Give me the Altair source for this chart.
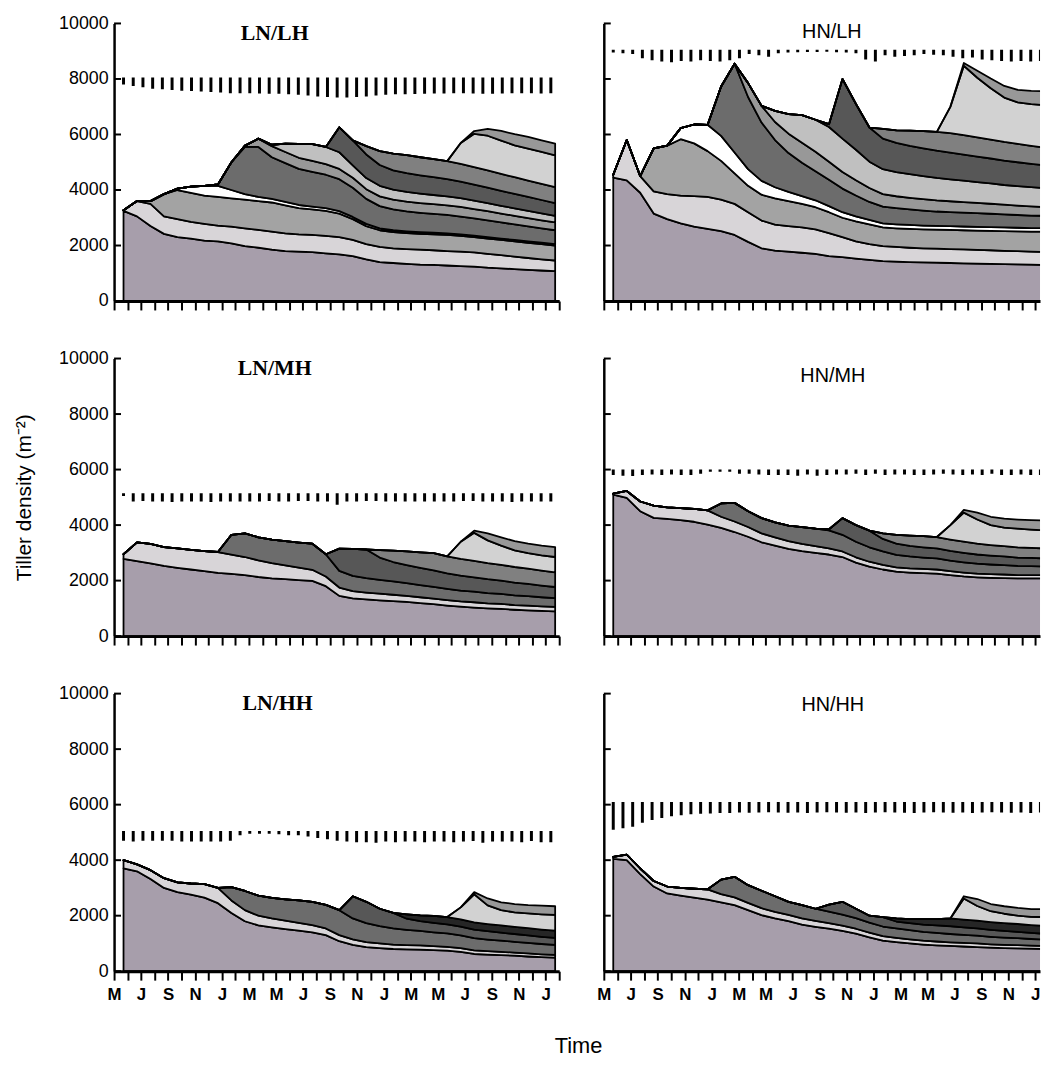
import altair as alt
import pandas as pd

# ---------------------------------------------------------------- data
# census dates (months after the first May)
T = [0.7, 1.7, 2.7, 3.7, 4.7, 5.7, 6.7, 7.7, 8.7, 9.7, 10.7, 11.7, 12.7, 13.7, 14.7, 15.7,
     16.7, 17.7, 18.7, 19.7, 20.7, 21.7, 22.7, 23.7, 24.7, 25.7, 26.7, 27.7, 28.7, 29.7,
     30.7, 31.7, 32.7]

# dates of the error bars
BAR_T = [0.7, 1.42, 2.14, 2.86, 3.58, 4.3, 5.02, 5.74, 6.46, 7.18, 7.9, 8.62, 9.34, 10.06,
         10.78, 11.5, 12.22, 12.94, 13.66, 14.38, 15.1, 15.82, 16.54, 17.26, 17.98, 18.7,
         19.42, 20.14, 20.86, 21.58, 22.3, 23.02, 23.74, 24.46, 25.18, 25.9, 26.62, 27.34,
         28.06, 28.78, 29.5, 30.22, 30.94, 31.66, 32.38]

MONTH_LABELS = ["M", "J", "S", "N", "J", "M"]
Y_TICKS = [0, 2000, 4000, 6000, 8000, 10000]

# cohorts: (kind, index of first census, tiller density of the cohort, m-2)
LN_LH = [
    ("base", 0, [3250, 3050, 2700, 2420, 2300, 2250, 2180, 2150, 2080, 1980, 1920, 1850, 1800, 1780, 1760, 1720, 1680, 1620, 1500, 1400, 1370, 1340, 1310, 1300, 1280, 1260, 1240, 1200, 1180, 1150, 1120, 1100, 1080]),
    ("dots", 0, [20, 550, 800, 630, 650, 600, 600, 570, 600, 640, 640, 650, 640, 620, 620, 630, 620, 580, 550, 550, 530, 530, 540, 530, 520, 520, 510, 500, 470, 450, 430, 400, 380]),
    ("hatch", 2, [100, 800, 1050, 1050, 1020, 1030, 1020, 1030, 1040, 1050, 1010, 950, 920, 900, 850, 750, 650, 600, 580, 580, 570, 570, 580, 570, 550, 550, 550, 550, 550, 550, 540]),
    ("white", 4, [50, 220, 350, 400, 300, 200, 150, 130, 120, 110, 100, 100, 90, 80, 80, 70, 70, 60, 60, 60, 60, 55, 55, 55, 50, 50, 50, 50, 50]),
    ("xhatch", 7, [50, 1000, 1700, 1800, 1500, 1400, 1300, 1250, 1200, 1150, 1050, 900, 800, 750, 720, 700, 680, 660, 640, 620, 600, 580, 560, 540, 520, 500]),
    ("vstripe", 9, [50, 300, 400, 400, 400, 400, 380, 370, 360, 350, 350, 350, 350, 350, 350, 350, 350, 340, 330, 320, 310, 300, 290, 280]),
    ("lhatch", 11, [50, 300, 500, 600, 620, 600, 450, 400, 380, 360, 350, 340, 330, 320, 310, 300, 290, 280, 270, 260, 250, 240]),
    ("diamond", 16, [900, 900, 850, 750, 700, 680, 660, 640, 620, 600, 580, 560, 540, 520, 500, 480, 460]),
    ("ddots", 18, [300, 500, 600, 650, 650, 650, 650, 640, 630, 620, 610, 600, 590, 580, 570]),
    ("grid", 25, [750, 1200, 1250, 1200, 1150, 1150, 1150, 1150]),
    ("vstripe", 26, [100, 250, 350, 400, 420, 420, 420]),
]
HN_LH = [
    ("base", 0, [4450, 4350, 3900, 3150, 2950, 2800, 2680, 2600, 2520, 2380, 2130, 1900, 1820, 1780, 1740, 1700, 1620, 1580, 1530, 1480, 1440, 1420, 1400, 1390, 1380, 1370, 1360, 1350, 1340, 1330, 1320, 1310, 1300]),
    ("dots", 0, [100, 1450, 600, 800, 900, 1000, 1100, 1150, 1130, 1120, 1070, 1000, 930, 920, 910, 880, 830, 720, 620, 570, 540, 530, 520, 510, 510, 500, 500, 490, 490, 480, 480, 470, 470]),
    ("hatch", 3, [1550, 1750, 2030, 1900, 1650, 1400, 1100, 950, 930, 950, 900, 850, 800, 750, 700, 720, 710, 670, 670, 680, 680, 680, 690, 690, 700, 700, 710, 710, 720, 730]),
    ("white", 5, [400, 680, 950, 900, 750, 600, 500, 400, 330, 280, 250, 220, 200, 180, 160, 150, 145, 140, 140, 135, 135, 135, 135, 135, 130, 130, 130, 130]),
    ("xhatch", 8, [1780, 3200, 2600, 2100, 1700, 1400, 1200, 1050, 950, 850, 750, 650, 600, 580, 560, 540, 520, 510, 500, 490, 480, 470, 460, 450, 440]),
    ("vstripe", 10, [500, 600, 650, 700, 720, 700, 650, 600, 550, 500, 450, 430, 420, 410, 400, 390, 380, 370, 360, 350, 340, 330, 320]),
    ("lhatch", 12, [400, 700, 1000, 1150, 1250, 1200, 1100, 950, 900, 870, 850, 830, 810, 790, 770, 750, 730, 710, 700, 690, 680]),
    ("diamond", 16, [100, 2150, 1650, 1230, 1100, 1050, 1020, 1000, 980, 960, 940, 920, 900, 880, 860, 840, 820]),
    ("ddots", 20, [350, 450, 550, 620, 680, 700, 700, 690, 680, 670, 660, 650, 640]),
    ("grid", 25, [950, 2500, 2150, 1850, 1600, 1500, 1500, 1530]),
    ("vstripe", 26, [100, 250, 350, 420, 450, 480, 500]),
]
LN_MH = [
    ("base", 0, [2780, 2700, 2620, 2530, 2460, 2400, 2340, 2280, 2240, 2200, 2130, 2080, 2050, 2020, 1990, 1800, 1450, 1360, 1320, 1290, 1260, 1230, 1190, 1150, 1100, 1060, 1030, 1000, 980, 950, 930, 910, 890]),
    ("dots", 0, [170, 680, 700, 680, 700, 710, 720, 750, 700, 650, 600, 550, 500, 450, 400, 350, 300, 260, 250, 240, 230, 220, 210, 200, 200, 190, 190, 180, 180, 170, 170, 160, 160]),
    ("xhatch", 8, [710, 850, 830, 850, 870, 900, 940, 800, 600, 550, 520, 500, 480, 460, 440, 420, 400, 390, 380, 370, 360, 350, 340, 330, 320]),
    ("diamond", 16, [800, 970, 1030, 800, 700, 650, 620, 600, 560, 540, 520, 500, 480, 460, 440, 420, 400]),
    ("ddots", 19, [270, 410, 490, 560, 620, 610, 600, 590, 580, 570, 560, 550, 540, 530]),
    ("grid", 25, [620, 1010, 820, 690, 600, 560, 550, 550]),
    ("vstripe", 26, [80, 250, 300, 330, 340, 350, 360]),
]
HN_MH = [
    ("base", 0, [5100, 4980, 4500, 4260, 4220, 4180, 4120, 4020, 3900, 3750, 3580, 3380, 3260, 3140, 3060, 3000, 2940, 2850, 2650, 2500, 2400, 2320, 2290, 2270, 2250, 2200, 2150, 2120, 2100, 2090, 2080, 2080, 2080]),
    ("dots", 0, [30, 250, 350, 440, 420, 430, 460, 510, 400, 380, 350, 320, 300, 280, 260, 240, 220, 200, 190, 180, 170, 160, 150, 150, 150, 140, 140, 130, 130, 130, 120, 120, 120]),
    ("xhatch", 8, [480, 670, 570, 550, 540, 560, 610, 630, 650, 600, 560, 520, 480, 450, 430, 410, 400, 380, 370, 360, 350, 340, 330, 320, 310]),
    ("diamond", 16, [40, 600, 600, 600, 450, 400, 380, 370, 360, 350, 340, 330, 320, 310, 300, 300, 290]),
    ("ddots", 20, [200, 320, 370, 400, 410, 410, 400, 390, 380, 370, 370, 360, 360]),
    ("grid", 25, [520, 1050, 870, 720, 670, 670, 660, 655]),
    ("vstripe", 26, [100, 250, 300, 320, 330, 340, 350]),
]
LN_HH = [
    ("base", 0, [3700, 3600, 3320, 3000, 2850, 2760, 2650, 2450, 2100, 1800, 1650, 1580, 1520, 1460, 1400, 1300, 1080, 950, 870, 830, 800, 790, 780, 760, 740, 700, 620, 600, 580, 560, 530, 510, 490]),
    ("dots", 0, [300, 250, 320, 350, 350, 400, 490, 550, 450, 400, 350, 320, 300, 280, 260, 240, 220, 200, 180, 170, 160, 150, 150, 140, 140, 130, 130, 120, 120, 110, 110, 100, 100]),
    ("xhatch", 8, [480, 690, 720, 740, 770, 810, 840, 850, 900, 750, 680, 620, 580, 550, 520, 500, 480, 460, 440, 420, 400, 390, 380, 370, 360]),
    ("diamond", 17, [800, 770, 630, 560, 400, 350, 340, 330, 320, 310, 300, 290, 280, 270, 260, 250]),
    ("black", 21, [160, 210, 250, 260, 260, 260, 260, 260, 260, 260, 260, 260]),
    ("grid", 25, [430, 1010, 670, 550, 520, 530, 550, 570]),
    ("vstripe", 26, [80, 250, 280, 300, 300, 310, 310]),
]
HN_HH = [
    ("base", 0, [4050, 4000, 3500, 3050, 2800, 2720, 2650, 2580, 2480, 2380, 2200, 2020, 1900, 1800, 1680, 1600, 1530, 1450, 1350, 1220, 1100, 1050, 1000, 960, 930, 910, 890, 870, 850, 830, 820, 810, 800]),
    ("dots", 0, [70, 200, 200, 200, 250, 280, 320, 370, 300, 280, 260, 250, 240, 230, 220, 210, 200, 190, 180, 170, 160, 150, 150, 140, 140, 130, 130, 130, 120, 120, 120, 110, 110]),
    ("xhatch", 8, [520, 740, 640, 630, 560, 470, 480, 440, 420, 400, 380, 360, 350, 340, 330, 320, 310, 300, 290, 280, 270, 260, 250, 240, 230]),
    ("diamond", 16, [250, 460, 340, 250, 340, 250, 250, 260, 270, 280, 270, 260, 250, 240, 230, 220, 210]),
    ("black", 21, [110, 150, 200, 230, 280, 280, 280, 280, 280, 280, 280, 280]),
    ("grid", 26, [760, 530, 390, 340, 300, 300, 320]),
    ("vstripe", 26, [80, 250, 260, 270, 280, 280, 280]),
]

# error bars: top of the bars and their lengths
BAR_TOP = {"LN/LH": 8050, "HN/LH": 9050, "LN/MH": 5150, "HN/MH": 6000, "LN/HH": 5050, "HN/HH": 6100}
BAR_LEN_LNLH = [250, 300, 350, 400, 420, 450, 470, 480, 500, 520, 540, 560, 560, 560, 570, 580, 580, 600, 620, 650, 680, 700, 720, 720, 700, 680, 650, 620, 600, 600, 590, 580, 570, 570, 560, 560, 570, 580, 580, 570, 560, 560, 560, 570, 560]
BAR_LEN_HNLH = [100, 120, 150, 300, 380, 420, 450, 400, 420, 380, 400, 420, 380, 300, 150, 200, 250, 120, 100, 90, 80, 80, 70, 90, 100, 120, 350, 420, 200, 250, 220, 200, 150, 180, 200, 250, 300, 280, 350, 380, 400, 420, 400, 420, 400]
BAR_LEN_LNMH = [100, 300, 280, 300, 300, 320, 300, 300, 300, 320, 300, 300, 300, 300, 300, 280, 300, 300, 280, 280, 300, 300, 420, 300, 300, 280, 280, 300, 300, 300, 300, 300, 300, 300, 300, 280, 280, 300, 300, 300, 320, 300, 300, 300, 300]
BAR_LEN_HNMH = [200, 220, 230, 200, 180, 200, 180, 200, 200, 150, 80, 80, 80, 150, 150, 180, 200, 200, 200, 220, 180, 220, 200, 180, 180, 150, 200, 150, 200, 180, 180, 200, 200, 180, 150, 180, 200, 180, 200, 150, 200, 200, 180, 200, 200]
BAR_LEN_LNHH = [350, 380, 350, 350, 350, 350, 380, 380, 380, 380, 380, 350, 150, 100, 100, 100, 120, 150, 150, 200, 250, 300, 350, 380, 400, 400, 420, 380, 400, 380, 380, 400, 380, 380, 400, 380, 360, 420, 380, 380, 380, 400, 360, 400, 400]
BAR_LEN_HNHH = [1000, 950, 900, 750, 650, 580, 520, 480, 450, 430, 420, 400, 400, 380, 390, 380, 370, 380, 390, 380, 400, 380, 370, 380, 390, 380, 400, 380, 370, 380, 390, 400, 380, 370, 380, 390, 380, 400, 380, 370, 380, 390, 380, 400, 380]

# ---------------------------------------------------------------- style
KIND_FILL = {
    "base": "#a79eab", "dots": "#d8d5d8", "hatch": "#a3a3a3", "white": "#ffffff",
    "xhatch": "#6c6c6c", "vstripe": "#989898", "lhatch": "#c0c0c0", "diamond": "#575757",
    "ddots": "#808080", "grid": "#d2d2d2", "black": "#262626",
}
LABEL_EXPR = ("datum.value % 2 == 0 ? [" + ",".join("'%s'" % m for m in MONTH_LABELS)
              + "][(datum.value / 2) % 6] : ''")


def cohort_frame(cohorts):
    rows = []
    for ci, (kind, start, vals) in enumerate(cohorts):
        if start + len(vals) != len(T):
            raise ValueError("cohort %d (%s) has wrong length %d" % (ci, kind, len(vals)))
        full = [0] * start + list(vals)
        for t, v in zip(T, full):
            rows.append({"t": t, "v": v, "cid": ci, "fill": KIND_FILL[kind]})
    return pd.DataFrame(rows)


def panel(name, cohorts, bar_len, col, row, tx, ty):
    left = col == 0
    bottom = row == 2
    xmax = 33.0 if left else 32.35
    width = 449 if left else 440
    if len(bar_len) != len(BAR_T):
        raise ValueError("bars of %s" % name)
    xs = alt.Scale(domain=[0, xmax], nice=False, zero=False)
    ys = alt.Scale(domain=[0, 10000], nice=False)
    xaxis = alt.Axis(values=list(range(0, int(xmax) + 1)), labelExpr=LABEL_EXPR,
                     labels=bottom, ticks=True, tickSize=9, tickWidth=2, tickColor="black",
                     domainWidth=3, domainColor="black", grid=False, title=None,
                     labelFont="Liberation Sans Narrow, Liberation Sans", labelFontSize=17,
                     labelFontWeight="bold", labelPadding=7, labelFlush=False,
                     labelOverlap=False, labelColor="black", zindex=1, minExtent=0)
    yargs = dict(values=Y_TICKS, labels=left, ticks=False, domainWidth=2.5, format="d",
                 domainColor="black", grid=False, labelFont="Liberation Sans",
                 labelFontSize=18, labelPadding=6, labelColor="black", zindex=1,
                 minExtent=0)
    if left and row == 1:
        yargs.update(title="Tiller density (m⁻²)", titleFont="Liberation Sans",
                     titleFontSize=21, titleFontWeight="normal", titlePadding=24,
                     titleColor="black")
    else:
        yargs.update(title=None)
    yaxis = alt.Axis(**yargs)

    area = alt.Chart(cohort_frame(cohorts)).mark_area(
        stroke="black", strokeWidth=1.8, strokeJoin="round", interpolate="linear", clip=True
    ).encode(
        x=alt.X("t:Q", scale=xs, axis=xaxis),
        y=alt.Y("v:Q", stack="zero", scale=ys, axis=yaxis),
        fill=alt.Fill("fill:N", scale=None),
        detail="cid:N",
        order=alt.Order("cid:Q", sort="ascending"),
    )
    top = BAR_TOP[name]
    bdf = pd.DataFrame({"t": BAR_T, "hi": [top] * len(BAR_T), "lo": [top - b for b in bar_len]})
    bars = alt.Chart(bdf).mark_rule(color="black", strokeWidth=3, clip=True).encode(
        x=alt.X("t:Q", scale=xs, axis=xaxis),
        y=alt.Y("hi:Q", scale=ys, axis=yaxis),
        y2="lo:Q",
    )
    ticks = alt.Chart(pd.DataFrame({"v": Y_TICKS})).mark_rule(color="black", strokeWidth=2).encode(
        y=alt.Y("v:Q", scale=ys, axis=yaxis), x=alt.value(0), x2=alt.value(7)
    )
    if left:
        tstyle = dict(font="Liberation Serif", fontSize=22, fontWeight="bold")
    else:
        tstyle = dict(font="Liberation Sans", fontSize=20, fontWeight="normal")
    label = alt.Chart(pd.DataFrame({"label": [name]})).mark_text(
        align="center", baseline="middle", color="black", **tstyle
    ).encode(text="label:N", x=alt.value(tx), y=alt.value(ty))
    return alt.layer(area, bars, ticks, label).properties(width=width, height=280)


panels = [
    panel("LN/LH", LN_LH, BAR_LEN_LNLH, 0, 0, 162, 10),
    panel("HN/LH", HN_LH, BAR_LEN_HNLH, 1, 0, 230, 9),
    panel("LN/MH", LN_MH, BAR_LEN_LNMH, 0, 1, 162, 10),
    panel("HN/MH", HN_MH, BAR_LEN_HNMH, 1, 1, 231, 18),
    panel("LN/HH", LN_HH, BAR_LEN_LNHH, 0, 2, 165, 10),
    panel("HN/HH", HN_HH, BAR_LEN_HNHH, 1, 2, 231, 12),
]

chart = alt.concat(*panels, columns=2, spacing={"row": 39, "column": 36}).properties(
    title=alt.Title("Time", orient="bottom", anchor="middle", fontSize=22,
                    font="Liberation Sans", fontWeight="normal", offset=34, dx=52,
                    color="black"),
    padding={"left": 5, "right": 2, "top": 2, "bottom": 0},
).configure_view(stroke=None)

chart.save("out.html", embed_options={"renderer": "svg", "actions": False})
